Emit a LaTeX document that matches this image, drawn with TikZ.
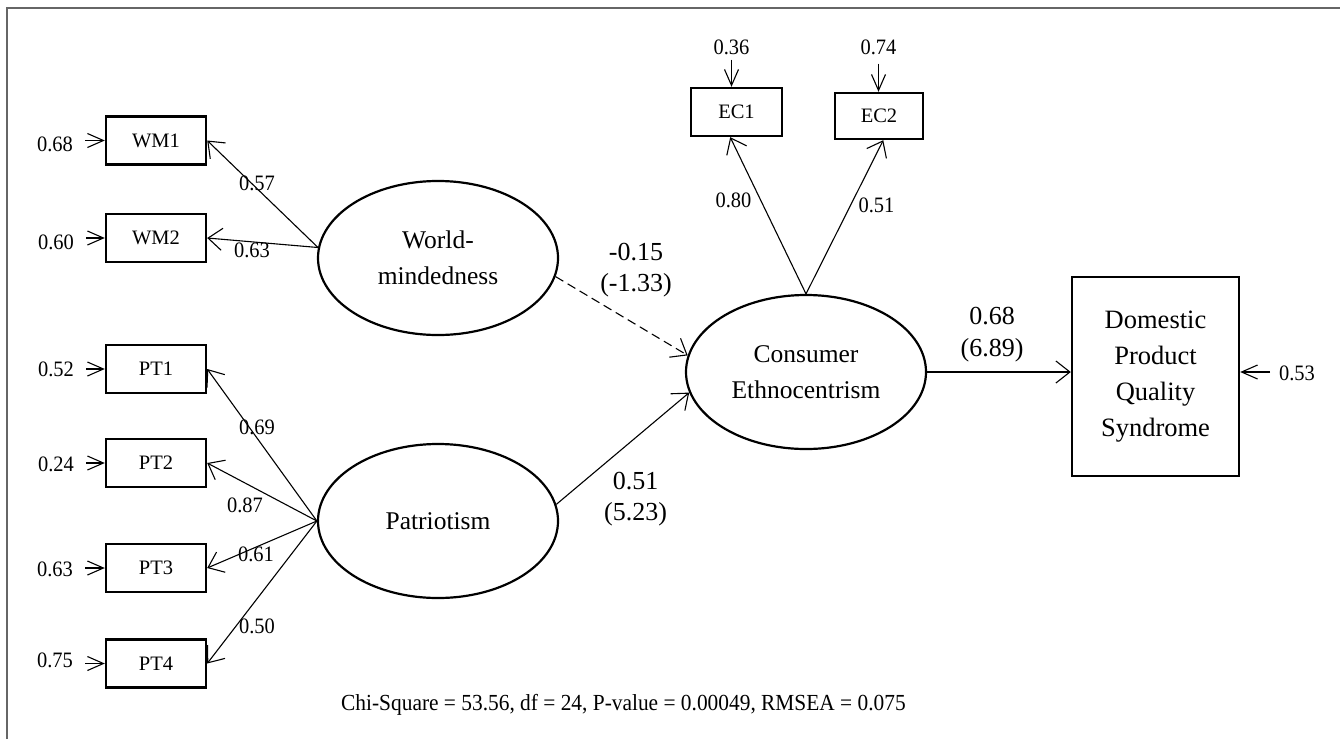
\documentclass[tikz,border=0pt]{standalone}
\usepackage{fontspec}
\setmainfont{Liberation Serif}
\newfontfamily\lblfont[FakeStretch=0.93]{Liberation Serif}
\usetikzlibrary{arrows.meta,shapes.geometric}
\begin{document}
\begin{tikzpicture}[x=1pt,y=-1pt,
  obs/.style={draw, line width=2.4pt, minimum width=100pt, minimum height=48pt, inner sep=0pt, font=\fontsize{20.5}{24}\selectfont},
  lat/.style={ellipse, draw, line width=2.2pt, minimum width=240pt, minimum height=154pt, inner sep=0pt, align=center, font=\fontsize{25.5}{36}\selectfont},
  errlbl/.style={inner ysep=0pt, inner xsep=12pt, font=\lblfont\fontsize{22}{24}\selectfont},
  lbl/.style={inner sep=0pt, font=\lblfont\fontsize{22}{24}\selectfont},
  biglbl/.style={inner sep=0pt, align=center, font=\fontsize{26}{31.5}\selectfont},
  conn/.style={line width=1.1pt, -{Straight Barb[length=14pt,width=22pt,line width=1.1pt]}},
  errconn/.style={line width=1.1pt, -{Straight Barb[length=16pt,width=14pt,line width=1.1pt]}}
]
\useasboundingbox (0,0) rectangle (1340,739);
\draw[line width=2pt, black!60] (7,739) -- (7,8) -- (1340,8);

% observed indicators
\node[obs] (wm1) at (156,140.5) {WM1};
\node[obs] (wm2) at (156,238) {WM2};
\node[obs] (pt1) at (156,369) {PT1};
\node[obs] (pt2) at (156,463) {PT2};
\node[obs] (pt3) at (156,568) {PT3};
\node[obs] (pt4) at (156,663.5) {PT4};
\node[obs, minimum width=91pt] (ec1) at (736.5,112) {EC1};
\node[obs, minimum width=88pt, minimum height=46pt] (ec2) at (879,116) {EC2};
\node[obs, minimum width=167pt, minimum height=199pt, align=center, font=\fontsize{26.5}{36}\selectfont] (dom) at (1155.5,376.5) {Domestic\\Product\\Quality\\Syndrome};

% latent variables
\node[lat] (wm) at (438,258) {World-\\mindedness};
\node[lat] (pt) at (438,521) {Patriotism};
\node[lat] (ce) at (806,372) {Consumer\\Ethnocentrism};

% error terms
\node[errlbl] (ewm1) at (55,144.5) {0.68};
\node[errlbl] (ewm2) at (56,242.5) {0.60};
\node[errlbl] (ept1) at (56,369.5) {0.52};
\node[errlbl] (ept2) at (56,464.5) {0.24};
\node[errlbl] (ept3) at (55,569.5) {0.63};
\node[errlbl] (ept4) at (55,660.5) {0.75};
\node[lbl] (eec1) at (731.5,47) {0.36};
\node[lbl] (eec2) at (878.5,47) {0.74};
\node[lbl] (edom) at (1297,373) {0.53};
\coordinate (edomstart) at (1270,372);

\draw[errconn] (ewm1.east |- wm1.west) -- (wm1.west);
\draw[errconn] (ewm2.east |- wm2.west) -- (wm2.west);
\draw[errconn] (ept1.east |- pt1.west) -- (pt1.west);
\draw[errconn] (ept2.east |- pt2.west) -- (pt2.west);
\draw[errconn] (ept3.east |- pt3.west) -- (pt3.west);
\draw[errconn] (ept4.east |- pt4.west) -- (pt4.west);
\draw[errconn] ([yshift=-5pt]eec1.south) -- (eec1.south |- ec1.north);
\draw[errconn] ([yshift=-9pt]eec2.south) -- (eec2.south |- ec2.north);
\draw[errconn] (edomstart) -- (edomstart -| dom.east);

% loadings
\draw[conn] (wm.175) -- (wm1.east);
\draw[conn] (wm.175) -- (wm2.east);
\draw[conn] (pt.west) -- (pt1.east);
\draw[conn] (pt.west) -- (pt2.east);
\draw[conn] (pt.west) -- (pt3.east);
\draw[conn] (pt.west) -- (pt4.east);
\draw[conn] (ce.north) -- (ec1.-104);
\draw[conn] (ce.north) -- (ec2.-80);

\node[lbl] (l1) at (257,183.5) {0.57};
\node[lbl] (l2) at (252,250) {0.63};
\node[lbl] (l3) at (257,427.5) {0.69};
\node[lbl] (l4) at (245,505.5) {0.87};
\node[lbl] (l5) at (256,554.5) {0.61};
\node[lbl] (l6) at (257,626.5) {0.50};
\node[lbl] (l7) at (733.5,200.5) {0.80};
\node[lbl] (l8) at (876.5,205.5) {0.51};

% structural paths
\draw[conn, dashed, dash pattern=on 9pt off 5pt] (wm.-9) -- (ce.172);
\draw[conn] (pt.8) -- (ce.190);
\draw[conn] (ce.east) -- (ce.east -| dom.west);

\node[biglbl] (s1) at (636,270) {-0.15\\(-1.33)};
\node[biglbl] (s2) at (635.5,499) {0.51\\(5.23)};
\node[biglbl] (s3) at (992,334.5) {0.68\\(6.89)};

\node[anchor=base west, inner sep=0pt, font=\lblfont\fontsize{23}{24}\selectfont] (fit) at (341,710.7) {Chi-Square = 53.56, df = 24, P-value = 0.00049, RMSEA = 0.075};
\end{tikzpicture}
\end{document}
